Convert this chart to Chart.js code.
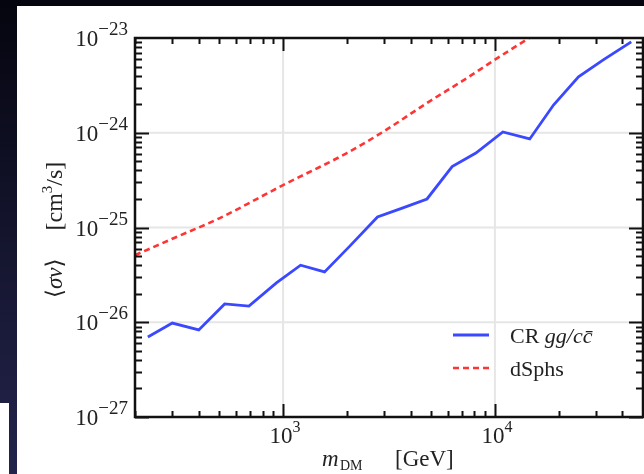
<!DOCTYPE html>
<html>
<head>
<meta charset="utf-8">
<script src="https://cdn.jsdelivr.net/npm/chart.js@4.4.1/dist/chart.umd.min.js"></script>
<style>
  html, body { margin: 0; padding: 0; background: #0a0a1c; }
  canvas { display: block; }
</style>
</head>
<body>
<canvas id="myChart" width="644" height="474"></canvas>
<script>
// CR limit for gg / c cbar channel
const massCR = [230, 300, 400, 530, 690, 930, 1210, 1570, 2070, 2790, 3650, 4780, 6280, 8130, 10900, 14600, 18900, 24800, 32600, 44000];
const sigmaCR = [7.0e-27, 9.8e-27, 8.3e-27, 1.56e-26, 1.48e-26, 2.6e-26, 4.0e-26, 3.4e-26, 6.4e-26, 1.29e-25, 1.6e-25, 2.0e-25, 4.4e-25, 6.1e-25, 1.02e-24, 8.6e-25, 1.96e-24, 3.9e-24, 5.9e-24, 9.1e-24];

// dwarf spheroidal limit
const massDS = [200, 300, 500, 1000, 2000, 3000, 5000, 7000, 10000, 15000];
const sigmaDS = [5.1e-26, 7.6e-26, 1.25e-25, 2.8e-25, 6.1e-25, 1.04e-24, 2.2e-24, 3.5e-24, 5.9e-24, 1.05e-23];

const xExps = [3, 4];
const yExps = [-27, -26, -25, -24, -23];
const legendLabels = [['CR ', 'gg/cc\u0304'], ['dSphs', '']];

const serif = '"Liberation Serif", "DejaVu Serif", serif';
const ink = '#222222';

function toPoints(xs, ys) {
  return xs.map((m, i) => ({ x: m, y: ys[i] }));
}

// "10" with a raised exponent
function powLabel(ctx, exp, x, y, align, expSize) {
  const e = String(exp).replace('-', '\u2212');
  ctx.font = '23px ' + serif;
  const wb = ctx.measureText('10').width;
  ctx.font = expSize + 'px ' + serif;
  const we = ctx.measureText(e).width;
  let left = x;
  if (align === 'right') left = x - wb - we;
  if (align === 'center') left = x - (wb + we) / 2;
  ctx.fillStyle = ink;
  ctx.textAlign = 'left';
  ctx.textBaseline = 'alphabetic';
  ctx.font = '23px ' + serif;
  ctx.fillText('10', left, y);
  ctx.font = expSize + 'px ' + serif;
  ctx.fillText(e, left + wb, y - 11);
}

const decor = {
  id: 'decor',
  beforeDraw(chart) {
    const c = chart.ctx;
    const g = c.createLinearGradient(0, 0, 0, 474);
    g.addColorStop(0, '#05050f');
    g.addColorStop(1, '#23244c');
    c.save();
    c.fillStyle = g;
    c.fillRect(0, 0, 644, 474);
    c.fillStyle = '#ffffff';
    c.fillRect(17, 6, 627, 468);
    c.fillRect(0, 403, 9, 71);
    c.restore();
  },
  beforeDatasetsDraw(chart) {
    const c = chart.ctx, a = chart.chartArea;
    const xs = chart.scales.x, ys = chart.scales.y;
    c.save();
    c.strokeStyle = '#e6e6e6';
    c.lineWidth = 2;
    xExps.forEach(e => {
      const px = xs.getPixelForValue(Math.pow(10, e));
      c.beginPath(); c.moveTo(px, a.top); c.lineTo(px, a.bottom); c.stroke();
    });
    yExps.forEach(e => {
      const py = ys.getPixelForValue(Math.pow(10, e));
      c.beginPath(); c.moveTo(a.left, py); c.lineTo(a.right, py); c.stroke();
    });
    c.restore();
  },
  afterDraw(chart) {
    const c = chart.ctx, a = chart.chartArea;
    const xs = chart.scales.x, ys = chart.scales.y;
    c.save();
    c.strokeStyle = '#111111';
    c.lineWidth = 2;

    // ticks pointing inwards on all four sides
    c.beginPath();
    for (let e = 2; e <= 4; e++) {
      for (let k = 1; k <= 9; k++) {
        const v = k * Math.pow(10, e);
        if (v < xs.min || v > xs.max) continue;
        const px = Math.round(xs.getPixelForValue(v)) + 0.5;
        const len = k === 1 ? 13 : 6;
        c.moveTo(px, a.bottom); c.lineTo(px, a.bottom - len);
        c.moveTo(px, a.top); c.lineTo(px, a.top + len);
      }
    }
    for (let e = -27; e <= -24; e++) {
      for (let k = 1; k <= 9; k++) {
        const v = k * Math.pow(10, e);
        const py = Math.round(ys.getPixelForValue(v)) + 0.5;
        const len = k === 1 ? 14 : 7;
        c.moveTo(a.left, py); c.lineTo(a.left + len, py);
        c.moveTo(a.right, py); c.lineTo(a.right - len, py);
      }
    }
    c.stroke();

    c.lineWidth = 2.5;
    c.strokeRect(a.left, a.top, a.right - a.left, a.bottom - a.top);

    // tick labels
    yExps.forEach(e => powLabel(c, e, 128, ys.getPixelForValue(Math.pow(10, e)) + 8, 'right', 19));
    xExps.forEach(e => powLabel(c, e, xs.getPixelForValue(Math.pow(10, e)) + 2, 443, 'center', 16));

    // x title: m_DM [GeV]
    c.fillStyle = ink;
    c.textAlign = 'left';
    c.textBaseline = 'alphabetic';
    c.font = 'italic 23px ' + serif;
    c.fillText('m', 322, 466);
    c.font = '14px ' + serif;
    c.fillText('DM', 340, 470);
    c.font = '23px ' + serif;
    c.fillText('[GeV]', 395, 466);

    // y title, rotated
    c.save();
    c.translate(62, 228);
    c.rotate(-Math.PI / 2);
    c.textAlign = 'left';
    let x0 = -70;
    c.font = '23px ' + serif;
    c.fillText('\u27e8', x0, 0); x0 += c.measureText('\u27e8').width;
    c.font = 'italic 23px ' + serif;
    c.fillText('\u03c3v', x0, 0); x0 += c.measureText('\u03c3v').width;
    c.font = '23px ' + serif;
    c.fillText('\u27e9', x0, 0); x0 += c.measureText('\u27e9').width + 28;
    c.font = '24px ' + serif;
    c.fillText('[cm', x0, 0); x0 += c.measureText('[cm').width;
    c.font = '15px ' + serif;
    c.fillText('3', x0, -10); x0 += c.measureText('3').width;
    c.font = '24px ' + serif;
    c.fillText('/s]', x0, 0);
    c.restore();

    // legend
    chart.data.datasets.forEach((ds, i) => {
      const ly = 335 + i * 33;
      c.strokeStyle = ds.borderColor;
      c.lineWidth = ds.borderWidth;
      c.setLineDash(ds.borderDash || []);
      c.beginPath(); c.moveTo(453, ly); c.lineTo(489, ly); c.stroke();
      c.setLineDash([]);
      c.fillStyle = ink;
      c.font = '22px ' + serif;
      c.fillText(legendLabels[i][0], 510, ly + 8);
      const w = c.measureText(legendLabels[i][0]).width;
      c.font = 'italic 22px ' + serif;
      c.fillText(legendLabels[i][1], 510 + w, ly + 8);
    });
    c.restore();
  }
};

const ctx = document.getElementById('myChart');

var chart = new Chart(ctx, {
  type: 'line',
  data: {
    datasets: [{
        label: 'CR gg/cc\u0304',
        data: toPoints(massCR, sigmaCR),
        borderColor: '#3a48ff',
        borderWidth: 2.8,
        pointRadius: 0,
        tension: 0,
        fill: false,
    }, {
        label: 'dSphs',
        data: toPoints(massDS, sigmaDS),
        borderColor: '#ff3434',
        borderWidth: 2.6,
        borderDash: [6, 4],
        pointRadius: 0,
        cubicInterpolationMode: 'monotone',
        fill: false,
    }]
  },
  options: {
    responsive: false,
    animation: false,
    devicePixelRatio: 1,
    layout: { padding: { top: 38, right: 1, left: 0, bottom: 0 } },
    scales: {
      x: {
        type: 'logarithmic',
        min: 200,
        max: 50000,
        grid: { display: false },
        border: { display: false },
        ticks: { display: false },
        afterFit: s => { s.height = 57; }
      },
      y: {
        type: 'logarithmic',
        min: 1e-27,
        max: 1e-23,
        grid: { display: false },
        border: { display: false },
        ticks: { display: false },
        afterFit: s => { s.width = 135; }
      }
    },
    plugins: {
      legend: { display: false },
      tooltip: { enabled: false }
    }
  },
  plugins: [decor]
});
</script>
</body>
</html>
